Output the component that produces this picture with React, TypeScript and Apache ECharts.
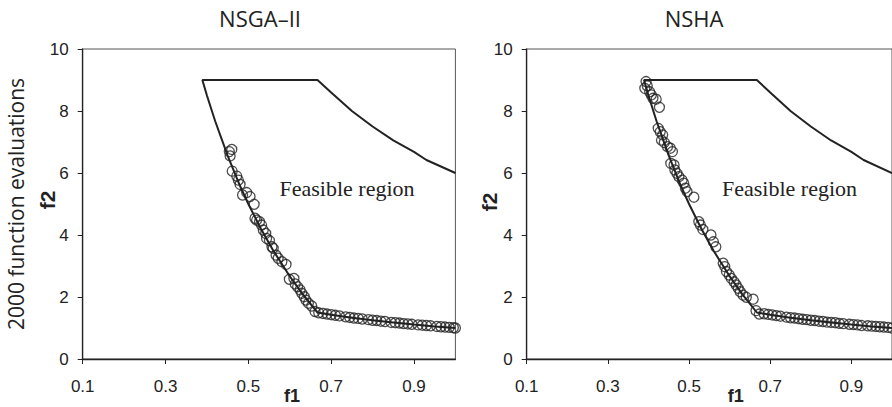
import React, { useEffect, useRef } from "react";
import * as echarts from "echarts";

const xTickValues = [0.1, 0.3, 0.5, 0.7, 0.9];
const yTickValues = [0, 2, 4, 6, 8, 10];
const panelTitles = ["NSGA–II", "NSHA"];

// boundary of the feasible region
const boundaryF1 = [1.0, 0.93, 0.9, 0.85, 0.8, 0.75, 0.7, 0.667, 0.389, 0.4, 0.42, 0.45, 0.48, 0.5, 0.53, 0.56, 0.6, 0.63, 0.667, 0.7, 0.75, 0.8, 0.85, 0.9, 0.95, 1.0];
const boundaryF2 = [6.0, 6.42, 6.68, 7.05, 7.5, 8.0, 8.6, 9.0, 9.0, 8.5, 7.67, 6.56, 5.58, 5.0, 4.21, 3.5, 2.67, 2.11, 1.5, 1.43, 1.33, 1.25, 1.18, 1.11, 1.05, 1.0];

const nsga2F1 = [0.454, 0.46, 0.456, 0.461, 0.472, 0.476, 0.48, 0.486, 0.496, 0.504, 0.514, 0.516, 0.52, 0.527, 0.532, 0.536, 0.542, 0.544, 0.551, 0.557, 0.56, 0.567, 0.572, 0.581, 0.591, 0.599, 0.61, 0.613, 0.619, 0.625, 0.629, 0.635, 0.639, 0.645, 0.653, 0.661,
  0.67, 0.68, 0.69, 0.7, 0.71, 0.72, 0.735, 0.745, 0.755, 0.765, 0.775, 0.79, 0.8, 0.81, 0.82, 0.83, 0.845, 0.855, 0.865, 0.875, 0.885, 0.895, 0.91, 0.92, 0.93, 0.94, 0.955, 0.965, 0.975, 0.985, 0.995, 1.0];
const nsga2F2 = [6.69, 6.76, 6.55, 6.06, 5.9, 5.77, 5.63, 5.29, 5.37, 5.24, 4.99, 4.54, 4.48, 4.43, 4.32, 4.16, 4.05, 3.89, 3.82, 3.62, 3.57, 3.35, 3.25, 3.14, 3.05, 2.57, 2.6, 2.42, 2.33, 2.23, 2.12, 2.01, 1.9, 1.8, 1.71, 1.53,
  1.49, 1.47, 1.45, 1.43, 1.41, 1.39, 1.36, 1.34, 1.32, 1.31, 1.29, 1.27, 1.25, 1.24, 1.22, 1.21, 1.18, 1.17, 1.16, 1.14, 1.13, 1.12, 1.1, 1.09, 1.08, 1.07, 1.05, 1.04, 1.03, 1.02, 1.01, 1.0];

const nshaF1 = [0.394, 0.391, 0.397, 0.403, 0.407, 0.411, 0.419, 0.427, 0.424, 0.429, 0.435, 0.432, 0.439, 0.447, 0.454, 0.459, 0.455, 0.463, 0.465, 0.47, 0.475, 0.483, 0.487, 0.491, 0.495, 0.512, 0.524, 0.528, 0.534, 0.554, 0.56, 0.566, 0.584, 0.588, 0.592, 0.599, 0.604, 0.611, 0.616, 0.621, 0.626, 0.633, 0.641, 0.658, 0.665, 0.673,
  0.685, 0.695, 0.705, 0.715, 0.725, 0.74, 0.75, 0.76, 0.77, 0.78, 0.79, 0.8, 0.81, 0.82, 0.83, 0.84, 0.85, 0.86, 0.87, 0.88, 0.895, 0.905, 0.915, 0.925, 0.94, 0.95, 0.96, 0.97, 0.98, 0.99, 1.0];
const nshaF2 = [8.95, 8.73, 8.81, 8.62, 8.52, 8.41, 8.38, 8.12, 7.44, 7.33, 7.23, 7.06, 6.98, 6.85, 6.8, 6.69, 6.31, 6.26, 6.1, 5.99, 5.88, 5.77, 5.67, 5.51, 5.4, 5.22, 4.43, 4.32, 4.18, 4.0, 3.78, 3.62, 3.09, 2.98, 2.82, 2.71, 2.6, 2.49, 2.39, 2.28, 2.17, 2.06, 1.99, 1.93, 1.56, 1.45,
  1.46, 1.44, 1.42, 1.4, 1.38, 1.35, 1.33, 1.32, 1.3, 1.28, 1.27, 1.25, 1.24, 1.22, 1.21, 1.19, 1.18, 1.17, 1.15, 1.14, 1.12, 1.11, 1.1, 1.08, 1.07, 1.06, 1.05, 1.04, 1.03, 1.02, 1.0];

const zip = (a: number[], b: number[]) => a.map((v, i) => [v, b[i]]);

export default function App() {
  const ref = useRef<HTMLDivElement>(null);
  useEffect(() => {
    if (!ref.current) return;
    const chart = echarts.init(ref.current, null, { renderer: "svg" });
    const ink = "#222";
    const grids = [
      { left: 82.7, top: 49, width: 372.7, height: 310 },
      { left: 526.7, top: 49, width: 371.7, height: 310 },
    ].map((g) => ({ ...g, show: true, borderColor: "#555", borderWidth: 1, containLabel: false }));
    const xAxis = [0, 1].map((i) => ({
      type: "value",
      gridIndex: i,
      min: 0.1,
      max: 1.0,
      splitLine: { show: false },
      axisLine: { lineStyle: { color: ink, width: 1.3 } },
      axisTick: { customValues: xTickValues, length: 5, lineStyle: { color: ink } },
      axisLabel: {
        customValues: xTickValues,
        formatter: (v: number) => v.toFixed(1),
        fontFamily: "Liberation Sans",
        fontSize: 17,
        color: ink,
        margin: 19,
      },
    }));
    const yAxis = [0, 1].map((i) => ({
      type: "value",
      gridIndex: i,
      min: 0,
      max: 10,
      interval: 2,
      splitLine: { show: false },
      axisLine: { show: true, lineStyle: { color: ink, width: 1.3 } },
      axisTick: { show: true, length: 5, lineStyle: { color: ink } },
      axisLabel: { fontFamily: "Liberation Sans", fontSize: 17, color: ink, margin: 14 },
    }));
    const lineSeries = [0, 1].map((i) => ({
      type: "line",
      xAxisIndex: i,
      yAxisIndex: i,
      data: zip(boundaryF1, boundaryF2),
      showSymbol: false,
      symbol: "none",
      lineStyle: { color: ink, width: 2 },
      clip: false,
      z: 2,
    }));
    const pts = [zip(nsga2F1, nsga2F2), zip(nshaF1, nshaF2)];
    const scatterSeries = [0, 1].map((i) => ({
      type: "scatter",
      xAxisIndex: i,
      yAxisIndex: i,
      data: pts[i],
      symbol: "circle",
      symbolSize: 10,
      itemStyle: { color: "rgba(0,0,0,0)", borderColor: ink, borderWidth: 1.3 },
      clip: false,
      z: 3,
    }));
    const txt = (text: string, x: number, y: number, font: any, rotation = 0) => ({
      type: "text",
      x,
      y,
      rotation,
      style: { text, fill: ink, align: "center", verticalAlign: "middle", ...font },
    });
    const sans = { fontFamily: "Open Sans", fontSize: 22 };
    const ylab = { fontFamily: "Open Sans", fontSize: 21 };
    const bold = { fontFamily: "Liberation Sans", fontSize: 21, fontWeight: "bold" };
    const bold1 = { fontFamily: "Liberation Sans", fontSize: 18, fontWeight: "bold" };
    const serif = { fontFamily: "Liberation Serif", fontSize: 22 };
    chart.setOption({
      animation: false,
      grid: grids,
      xAxis,
      yAxis,
      series: [...lineSeries, ...scatterSeries],
      graphic: [
        txt(panelTitles[0], 260, 18, sans),
        txt(panelTitles[1], 694, 18, sans),
        txt("2000 function evaluations", 16, 204, ylab, Math.PI / 2),
        txt("f2", 47.5, 200, bold, Math.PI / 2),
        txt("f2", 489.5, 202, bold, Math.PI / 2),
        txt("f1", 292, 396, bold1),
        txt("f1", 735.7, 396, bold1),
        txt("Feasible region", 347, 188, serif),
        txt("Feasible region", 789.5, 188, serif),
      ],
    });
    return () => chart.dispose();
  }, []);
  return <div ref={ref} style={{ position: "fixed", left: 0, top: 0, width: 892, height: 407, background: "#fff" }} />;
}
